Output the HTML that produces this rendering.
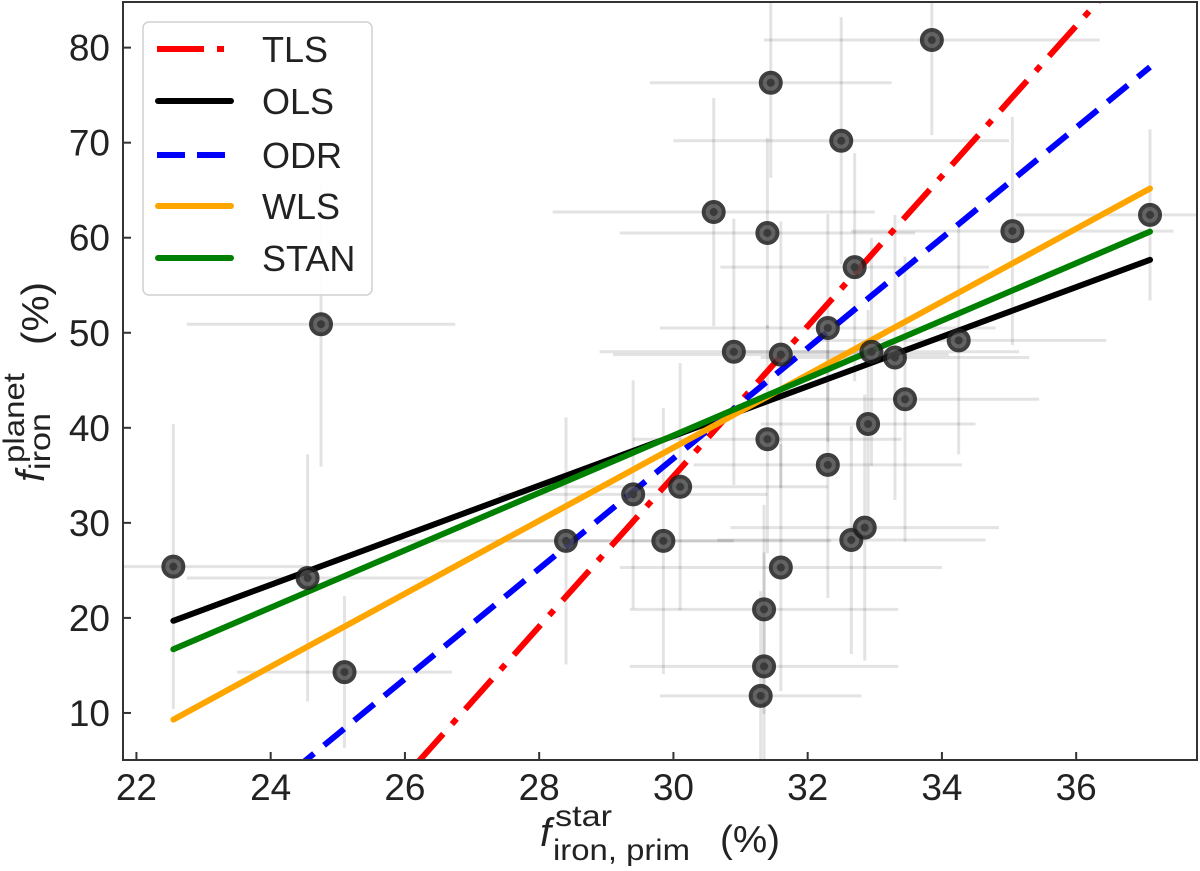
<!DOCTYPE html>
<html><head><meta charset="utf-8"><style>
html,body{margin:0;padding:0;background:#fff;overflow:hidden;}
svg{display:block;font-family:"Liberation Sans","DejaVu Sans",sans-serif;}
</style></head><body>
<svg id="chart" width="1200" height="871" viewBox="0 0 1200 871">
<g id="errs"></g>
<g id="lines"></g>
<g id="pts"></g>
<rect x="123" y="2" width="1074" height="758" fill="none" stroke="#333" stroke-width="2"/>
<g id="ticks"></g>
<g>
<rect x="143" y="22" width="229" height="273" rx="6" fill="#fff" fill-opacity="0.9" stroke="#d0d0d0" stroke-width="1.5"/>
<g id="legend"></g>
</g>
<g fill="#222">
<text x="540" y="846" font-size="40" font-style="italic">f</text>
<text x="555" y="826" font-size="30" textLength="57" lengthAdjust="spacingAndGlyphs">star</text>
<text x="553" y="860" font-size="30" textLength="137" lengthAdjust="spacingAndGlyphs">iron, prim</text>
<text x="720" y="852" font-size="38" textLength="60" lengthAdjust="spacingAndGlyphs">(%)</text>
</g>
<g fill="#222">
<text transform="translate(44,482) rotate(-90)" font-size="40" font-style="italic">f</text>
<text transform="translate(24,463) rotate(-90)" font-size="30" textLength="90" lengthAdjust="spacingAndGlyphs">planet</text>
<text transform="translate(50,470) rotate(-90)" font-size="30" textLength="57" lengthAdjust="spacingAndGlyphs">iron</text>
<text transform="translate(48,345) rotate(-90)" font-size="38" textLength="63" lengthAdjust="spacingAndGlyphs">(%)</text>
</g>
</svg>
<script>
const xs=[22.55,24.55,24.75,25.1,28.4,29.4,29.85,30.1,30.6,30.9,31.3,31.35,31.35,31.4,31.4,31.45,31.6,31.6,32.3,32.3,32.5,32.65,32.7,32.85,32.9,32.95,33.3,33.45,33.85,34.25,35.05,37.1];
const ys=[25.4,24.2,50.9,14.3,28.1,33,28.1,33.8,62.7,48,11.8,14.9,20.9,60.5,38.8,76.3,47.7,25.3,36.1,50.5,70.2,28.2,56.9,29.5,40.4,48,47.4,43,80.8,49.2,60.7,62.4];
const xerr=[2.0,1.8,2.0,1.6,2.5,2.0,2.5,2.2,2.4,2.0,1.5,2.0,2.0,2.2,2.0,1.8,2.5,2.4,2.0,2.5,2.5,2.0,2.0,2.0,1.6,2.2,2.0,2.0,2.5,2.2,2.4,2.0];
const yerr=[15,13,15,8,13,12,14,13,12,14,11,12,11,10,12,10,14,13,14,12,13,12,12,14,12,12,15,15,10,12,12,9];
const slopes=[7.9,2.61,5.8,3.84,3.02];
const intercepts=[42-7.9*30.9,19.7-2.61*22.55,42-5.8*30.9,9.3-3.84*22.55,16.7-3.02*22.55];
const names=["TLS","OLS","ODR","WLS","STAN"];
const colors=["#ff0000","#000000","#0000ff","#ffa500","#008000"];
const dashes=["40,13,7,13","","26,13","",""];
const xTicks=[22,24,26,28,30,32,34,36];
const yTicks=[10,20,30,40,50,60,70,80];
const NS="http://www.w3.org/2000/svg";
const X0=123,X1=1197,Y0=760,Y1=2,xmin=21.8,xmax=37.8,ymin=5.05,ymax=84.8;
function sx(v){return X0+(v-xmin)/(xmax-xmin)*(X1-X0);}
function sy(v){return Y0-(v-ymin)/(ymax-ymin)*(Y0-Y1);}
function mk(t,a,p){const e=document.createElementNS(NS,t);for(const k in a)e.setAttribute(k,a[k]);p.appendChild(e);return e;}
const E=document.getElementById('errs'),L=document.getElementById('lines'),P=document.getElementById('pts'),T=document.getElementById('ticks'),G=document.getElementById('legend');
const clip=mk('clipPath',{id:'cp'},document.getElementById('chart'));mk('rect',{x:X0,y:Y1,width:X1-X0,height:Y0-Y1},clip);
E.setAttribute('clip-path','url(#cp)');L.setAttribute('clip-path','url(#cp)');
for(let i=0;i<xs.length;i++){
 const h=mk('line',{x1:sx(xs[i]-xerr[i]),x2:sx(xs[i]+xerr[i]),y1:sy(ys[i]),y2:sy(ys[i]),stroke:'rgba(0,0,0,0.11)','stroke-width':3},E);
 
 
 const v=mk('line',{x1:sx(xs[i]),x2:sx(xs[i]),y1:sy(ys[i]-yerr[i]),y2:sy(ys[i]+yerr[i]),stroke:'rgba(0,0,0,0.11)','stroke-width':3},E);
 
 
}
const xa=xs[0],xb=xs[xs.length-1];
const legY=[49,101,155,206,258];
for(let k=0;k<names.length;k++){
 const a={x1:sx(xa),y1:sy(slopes[k]*xa+intercepts[k]),x2:sx(xb),y2:sy(slopes[k]*xb+intercepts[k]),stroke:colors[k],'stroke-width':6,'stroke-linecap':dashes[k]?'butt':'round'};
 if(dashes[k])a['stroke-dasharray']=dashes[k];
 const l=mk('line',a,L);
 
 
 const y=legY[k];
 const la=Object.assign({},a,{x1:dashes[k]?157:158,x2:dashes[k]?(k==0?224:225):231,y1:y,y2:y});
 if(k==0)la['stroke-dasharray']='47,13,7,13';
 if(k==2)la['stroke-dasharray']='28,12';
 const ll=mk('line',la,G);
 
 
 const t=mk('text',{x:262,y:y+13,'font-size':36,fill:'#222'},G);t.textContent=names[k];
 
 
}
for(let i=0;i<xs.length;i++){
 const c=mk('circle',{cx:sx(xs[i]),cy:sy(ys[i]),r:10,fill:'#4a4a4a',stroke:'#1e1e1e','stroke-width':4,opacity:0.85},P);
 
 
 const c2=mk('circle',{cx:sx(xs[i]),cy:sy(ys[i]),r:4,fill:'#3a3a3a'},P);
 
 
}
for(const v of xTicks){
 const l=mk('line',{x1:sx(v),x2:sx(v),y1:Y0,y2:Y0-8,stroke:'#333','stroke-width':2},T);
 
 
 const t=mk('text',{x:sx(v),y:Y0+40,'text-anchor':'middle','font-size':37,fill:'#222'},T);t.textContent=v;
 
 
}
for(const v of yTicks){
 const l=mk('line',{x1:X0,x2:X0+8,y1:sy(v),y2:sy(v),stroke:'#333','stroke-width':2},T);
 
 
 const t=mk('text',{x:110,y:sy(v)+13,'text-anchor':'end','font-size':37,fill:'#222'},T);t.textContent=v;
 
 
}
</script>
</body></html>
